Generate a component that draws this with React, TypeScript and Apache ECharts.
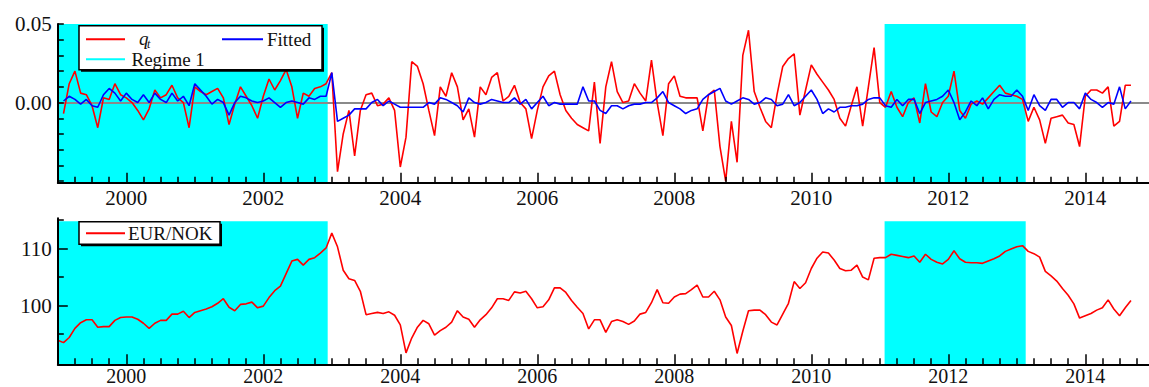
import React, { useEffect, useRef } from "react";
import * as echarts from "echarts";

// Monthly observations starting January 1999
const START_YEAR = 1999;

// EUR/NOK index, Jan 1999 .. Sep 2014
const eurNok = [
  93.9, 93.5, 94.4, 96.0, 97.0, 97.5, 97.5, 96.2, 96.3, 96.3,
  97.4, 97.9, 98.0, 98.0, 97.6, 96.9, 96.0, 96.9, 97.4, 97.4,
  98.5, 98.5, 99.0, 97.9, 98.8, 99.1, 99.4, 99.8, 100.4, 101.2,
  99.7, 99.1, 100.2, 100.3, 100.6, 99.6, 99.9, 101.4, 102.6, 103.4,
  105.6, 107.8, 108.1, 107.1, 108.1, 108.4, 109.2, 110.1, 112.7, 110.3,
  106.2, 104.7, 104.4, 102.5, 98.4, 98.6, 98.8, 98.6, 98.9, 98.3,
  96.6, 91.7, 94.3, 96.2, 97.4, 96.8, 94.8, 95.6, 96.2, 97.1,
  99.1, 98.0, 97.6, 96.2, 97.5, 98.4, 99.6, 101.2, 101.2, 100.9,
  102.4, 102.2, 102.5, 101.2, 99.6, 99.8, 101.0, 103.1, 103.1, 102.3,
  100.9, 99.7, 98.6, 95.9, 97.5, 97.5, 95.3, 97.2, 97.5, 97.2,
  96.7, 97.3, 98.5, 98.8, 100.5, 102.8, 100.5, 100.4, 101.5, 102.0,
  102.1, 102.8, 103.6, 101.5, 101.5, 102.5, 101.0, 98.0, 96.5, 91.6,
  95.5, 99.1, 99.2, 99.2, 98.4, 97.1, 96.6, 98.5, 100.4, 104.2,
  103.0, 104.0, 106.5, 108.3, 109.4, 109.2, 108.0, 106.5, 106.1, 106.2,
  107.1, 105.0, 104.5, 108.3, 108.4, 108.4, 109.0, 108.8, 108.6, 108.4,
  108.7, 107.6, 109.0, 108.1, 107.6, 107.3, 108.1, 109.6, 108.2, 107.6,
  107.5, 107.5, 107.4, 107.8, 108.2, 108.7, 109.5, 109.9, 110.3, 110.5,
  109.5, 109.1, 108.5, 106.0, 105.2, 104.3, 103.0, 101.8, 100.3, 97.8,
  98.2, 98.6, 99.2, 99.6, 101.0, 99.4, 98.2, 99.6, 100.9,
];

// q_t, Feb 1999 .. Sep 2014
const qt = [
  -0.007, 0.012, 0.02, 0.006, 0.005, -0.002, -0.016, 0.003, 0.002, 0.012,
  0.005, 0.003, 0.0, -0.005, -0.011, -0.004, 0.008, 0.003, 0.005, 0.011,
  0.003, 0.0, -0.016, 0.01, 0.007, 0.005, 0.007, 0.009, 0.003, -0.014,
  -0.001, 0.01, 0.004, -0.002, -0.01, 0.004, 0.015, 0.008, 0.014, 0.021,
  0.01, -0.01, 0.006, 0.004, 0.009, 0.01, 0.012, 0.019, -0.044, -0.02,
  -0.005, -0.034, -0.005, 0.005, 0.006, -0.002, -0.001, 0.003, -0.005, -0.041,
  -0.022, 0.026, 0.023, 0.012, -0.005, -0.021, 0.01, 0.004, 0.019, 0.01,
  -0.011, -0.004, -0.022, 0.01, 0.005, 0.016, 0.019, 0.001, 0.004, 0.011,
  0.0, -0.004, -0.023, -0.005, 0.01, 0.017, 0.02, 0.005, -0.005, -0.01,
  -0.014, -0.016, -0.018, 0.013, -0.026, 0.01, 0.026, 0.007, 0.0, 0.001,
  0.012, 0.006, 0.001, 0.027, 0.0, -0.021, 0.012, 0.017, 0.004, 0.003,
  0.003, 0.003, -0.018, 0.005, 0.008, -0.028, -0.05, -0.012, -0.038, 0.03,
  0.046, 0.007, -0.003, -0.012, -0.016, 0.005, 0.023, 0.028, 0.031, -0.008,
  0.008, 0.024, 0.018, 0.013, 0.008, 0.002, -0.01, -0.015, -0.002, 0.01,
  -0.015, 0.01, 0.035, 0.0, -0.003, 0.007, -0.003, -0.009, 0.0, 0.003,
  -0.013, 0.012, -0.006, -0.009, 0.0, 0.004, 0.02, -0.005, -0.01, -0.001,
  0.001, -0.001, 0.003, 0.007, 0.011, 0.006, 0.005, 0.004, 0.002, -0.012,
  -0.003, -0.011, -0.026, -0.01, -0.009, -0.008, -0.013, -0.014, -0.028, 0.004,
  0.008, 0.008, 0.006, 0.01, -0.015, -0.012, 0.011, 0.011,
];

// Fitted, Feb 1999 .. Sep 2014
const fitted = [
  0.001, 0.004, 0.002, -0.001, 0.002, -0.002, -0.003, 0.005, 0.009, 0.006,
  0.001, 0.006, 0.002, 0.0, 0.005, 0.0, 0.006, 0.002, 0.0, 0.006,
  0.001, 0.004, -0.002, 0.012, 0.008, 0.004, -0.001, 0.002, 0.0, -0.008,
  0.0, 0.004, 0.003, 0.001, 0.0, 0.001, 0.003, 0.0, -0.003, 0.0,
  0.001, 0.0, -0.001, 0.003, 0.002, 0.004, 0.004, 0.019, -0.012, -0.01,
  -0.008, -0.004, -0.004, -0.004, 0.0, 0.002, -0.002, 0.001, -0.001, -0.003,
  -0.003, -0.003, -0.003, -0.003, 0.0, -0.001, 0.003, 0.002, 0.0, -0.002,
  -0.006, 0.003, 0.0, -0.001, 0.0, 0.002, 0.001, 0.0, 0.0, 0.003,
  -0.001, 0.002, -0.004, 0.0, 0.004, -0.002, 0.0, -0.001, -0.001, -0.001,
  -0.001, 0.01, 0.001, 0.001, -0.005, -0.007, -0.002, -0.002, -0.004, -0.002,
  -0.001, -0.001, 0.0, 0.0, 0.003, 0.007, 0.0, -0.002, -0.004, -0.007,
  -0.005, -0.004, 0.002, 0.005, 0.007, 0.009, 0.001, -0.001, 0.001, 0.003,
  0.002, -0.001, 0.0, 0.003, 0.002, -0.002, -0.001, 0.005, -0.002, 0.0,
  0.004, 0.008, 0.002, -0.007, -0.004, -0.006, -0.003, -0.003, -0.002, -0.002,
  -0.001, 0.002, 0.003, 0.003, -0.002, -0.003, 0.002, -0.002, 0.002, 0.002,
  -0.007, 0.0, 0.001, 0.002, 0.004, 0.008, 0.0, -0.011, -0.006, 0.001,
  -0.002, 0.003, -0.004, 0.002, 0.005, 0.004, 0.004, 0.008, 0.004, -0.005,
  0.005, -0.002, -0.005, 0.002, 0.002, -0.003, 0.0, 0.0, -0.004, 0.006,
  0.002, 0.0, -0.003, 0.0, -0.001, 0.01, -0.004, 0.001,
];

// Regime 1 periods (decimal years)
const regimes: [number, number][] = [
  [1999.0, 2002.94],
  [2011.07, 2013.13],
];

// Axis tick labels
const xLabelYears = [2000, 2002, 2004, 2006, 2008, 2010, 2012, 2014];
const topYLabels = [0, 0.05];
const bottomYLabels = [100, 110];
const bottomYMinorTicks = [95, 105, 115];

const X_MIN = 1999;
const X_MAX = 2014.93;
const TOP_Y_MIN = -0.051;
const TOP_Y_MAX = 0.05;
const BOT_Y_MIN = 89.7;
const BOT_Y_MAX = 115.3;
const REGIME_TOP_BOTTOM_PANEL = 114.8;

const FONT = "'Liberation Serif', 'Times New Roman', serif";
const AXIS_Z = 10;

export default function App() {
  const ref = useRef<HTMLDivElement>(null);

  useEffect(() => {
    if (!ref.current) return;
    const chart = echarts.init(ref.current, null, { renderer: "svg" });

    const t = (i: number) => START_YEAR + i / 12;
    const qtData = qt.map((v, k) => [t(k + 1), v]);
    const fittedData = fitted.map((v, k) => [t(k + 1), v]);
    const eurData = eurNok.map((v, k) => [t(k), v]);

    const quarterTicks: number[] = [];
    for (let k = 1; k * 0.25 + X_MIN < X_MAX; k++) {
      const v = X_MIN + k * 0.25;
      if (!xLabelYears.includes(v)) quarterTicks.push(v);
    }
    const topYTicks: number[] = [];
    for (let k = -5; k <= 5; k++) topYTicks.push(k / 100);

    const mainX = (gridIndex: number, margin: number, fontSize: number) => ({
      type: "value",
      gridIndex,
      position: "bottom",
      z: AXIS_Z,
      min: X_MIN,
      max: X_MAX,
      axisLine: { show: true, onZero: false, lineStyle: { color: "#000", width: 2 } },
      axisTick: {
        show: true,
        inside: true,
        length: 10,
        customValues: xLabelYears,
        lineStyle: { color: "#000", width: 1.5 },
      },
      axisLabel: {
        show: true,
        customValues: xLabelYears,
        formatter: (v: number) => String(Math.round(v)),
        fontSize,
        lineHeight: 16,
        fontFamily: FONT,
        color: "#111",
        margin,
      },
      splitLine: { show: false },
    });
    const minorX = (gridIndex: number) => ({
      type: "value",
      gridIndex,
      position: "bottom",
      z: AXIS_Z,
      min: X_MIN,
      max: X_MAX,
      axisLine: { show: false, onZero: false },
      axisTick: {
        show: true,
        inside: true,
        length: 6,
        customValues: quarterTicks,
        lineStyle: { color: "#000", width: 1.5 },
      },
      axisLabel: { show: false },
      splitLine: { show: false },
    });

    const topRegimeAreas = regimes.map(([a, b]) => [
      { xAxis: a, yAxis: TOP_Y_MIN },
      { xAxis: b, yAxis: TOP_Y_MAX },
    ]);
    const bottomRegimeAreas = regimes.map(([a, b]) => [
      { xAxis: a, yAxis: BOT_Y_MIN },
      { xAxis: b, yAxis: REGIME_TOP_BOTTOM_PANEL },
    ]);

    const option: any = {
      animation: false,
      backgroundColor: "#fff",
      grid: [
        { left: 57.8, right: 0, top: 24, height: 158.7, outerBoundsMode: "none" },
        { left: 57.8, right: 0, top: 218.3, height: 146, outerBoundsMode: "none" },
      ],
      xAxis: [mainX(0, 7, 21), minorX(0), mainX(1, 4, 20), minorX(1)],
      yAxis: [
        {
          type: "value",
          gridIndex: 0,
          position: "left",
          z: AXIS_Z,
          min: TOP_Y_MIN,
          max: TOP_Y_MAX,
          axisLine: { show: true, onZero: false, lineStyle: { color: "#000", width: 2 } },
          axisTick: {
            show: true,
            inside: true,
            length: 6,
            customValues: topYTicks,
            lineStyle: { color: "#000", width: 1.5 },
          },
          axisLabel: {
            show: true,
            customValues: topYLabels,
            formatter: (v: number) => v.toFixed(2),
            fontSize: 21,
            fontFamily: FONT,
            color: "#111",
            margin: 6,
          },
          splitLine: { show: false },
        },
        {
          type: "value",
          gridIndex: 1,
          position: "left",
          z: AXIS_Z,
          min: BOT_Y_MIN,
          max: BOT_Y_MAX,
          axisLine: { show: true, onZero: false, lineStyle: { color: "#000", width: 2 } },
          axisTick: {
            show: true,
            inside: true,
            length: 10,
            customValues: bottomYLabels,
            lineStyle: { color: "#000", width: 1.5 },
          },
          axisLabel: {
            show: true,
            customValues: bottomYLabels,
            formatter: (v: number) => String(v),
            fontSize: 21,
            fontFamily: FONT,
            color: "#111",
            margin: 6,
          },
          splitLine: { show: false },
        },
        {
          type: "value",
          gridIndex: 1,
          position: "left",
          z: AXIS_Z,
          min: BOT_Y_MIN,
          max: BOT_Y_MAX,
          axisLine: { show: false, onZero: false },
          axisTick: {
            show: true,
            inside: true,
            length: 6,
            customValues: bottomYMinorTicks,
            lineStyle: { color: "#000", width: 1.5 },
          },
          axisLabel: { show: false },
          splitLine: { show: false },
        },
      ],
      series: [
        {
          name: "q_t",
          type: "line",
          xAxisIndex: 0,
          yAxisIndex: 0,
          data: qtData,
          showSymbol: false,
          symbol: "none",
          z: 3,
          lineStyle: { color: "#ff0000", width: 1.6 },
          markArea: {
            z: 1,
            silent: true,
            itemStyle: { color: "#00ffff", opacity: 1 },
            data: topRegimeAreas,
          },
          markLine: {
            z: 2,
            silent: true,
            symbol: ["none", "none"],
            label: { show: false },
            lineStyle: { color: "#8a8a8a", width: 2, type: "solid" },
            data: [{ yAxis: 0 }],
          },
        },
        {
          name: "Fitted",
          type: "line",
          xAxisIndex: 0,
          yAxisIndex: 0,
          data: fittedData,
          showSymbol: false,
          symbol: "none",
          z: 4,
          lineStyle: { color: "#0000ff", width: 1.6 },
        },
        {
          name: "EUR/NOK",
          type: "line",
          xAxisIndex: 2,
          yAxisIndex: 1,
          data: eurData,
          showSymbol: false,
          symbol: "none",
          z: 3,
          lineStyle: { color: "#ff0000", width: 1.6 },
          markArea: {
            z: 1,
            silent: true,
            itemStyle: { color: "#00ffff", opacity: 1 },
            data: bottomRegimeAreas,
          },
        },
      ],
      graphic: [
        // top legend
        { type: "rect", z: 20, shape: { x: 81, y: 27.7, width: 243, height: 44 }, style: { fill: "#000" } },
        { type: "rect", z: 21, shape: { x: 79, y: 25.7, width: 243, height: 44 }, style: { fill: "#fff", stroke: "#000", lineWidth: 1.5 } },
        { type: "line", z: 22, shape: { x1: 86, y1: 39.3, x2: 125, y2: 39.3 }, style: { stroke: "#ff0000", lineWidth: 2 } },
        { type: "text", z: 22, x: 139, y: 38, style: { text: "q", fontSize: 19, fontStyle: "italic", fontFamily: FONT, fill: "#111", verticalAlign: "middle" } },
        { type: "text", z: 22, x: 147, y: 44, style: { text: "t", fontSize: 12, fontStyle: "italic", fontFamily: FONT, fill: "#111", verticalAlign: "middle" } },
        { type: "line", z: 22, shape: { x1: 222, y1: 39.3, x2: 263, y2: 39.3 }, style: { stroke: "#0000ff", lineWidth: 2 } },
        { type: "text", z: 22, x: 267, y: 39.5, style: { text: "Fitted", fontSize: 19, fontFamily: FONT, fill: "#111", verticalAlign: "middle" } },
        { type: "line", z: 22, shape: { x1: 86, y1: 59.3, x2: 125, y2: 59.3 }, style: { stroke: "#00ffff", lineWidth: 2 } },
        { type: "text", z: 22, x: 131.5, y: 59.5, style: { text: "Regime 1", fontSize: 19, fontFamily: FONT, fill: "#111", verticalAlign: "middle" } },
        // bottom legend
        { type: "rect", z: 20, shape: { x: 81, y: 223.7, width: 141, height: 22.6 }, style: { fill: "#000" } },
        { type: "rect", z: 21, shape: { x: 79, y: 221.7, width: 141, height: 22.6 }, style: { fill: "#fff", stroke: "#000", lineWidth: 1.5 } },
        { type: "line", z: 22, shape: { x1: 86, y1: 233.3, x2: 125, y2: 233.3 }, style: { stroke: "#ff0000", lineWidth: 2 } },
        { type: "text", z: 22, x: 128, y: 233.5, style: { text: "EUR/NOK", fontSize: 19, fontFamily: FONT, fill: "#111", verticalAlign: "middle" } },
      ],
    };

    chart.setOption(option);
    return () => chart.dispose();
  }, []);

  return (
    <div
      ref={ref}
      style={{ position: "fixed", left: 0, top: 0, width: 1149, height: 387, background: "#fff" }}
    />
  );
}
